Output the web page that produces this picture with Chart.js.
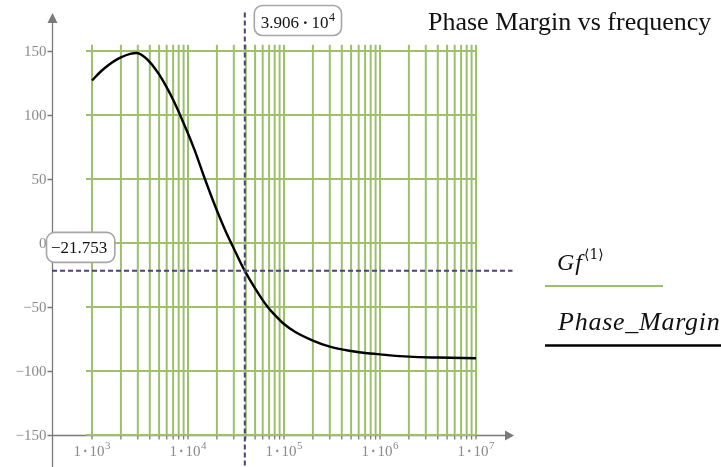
<!DOCTYPE html>
<html>
<head>
<meta charset="utf-8">
<script src="https://cdn.jsdelivr.net/npm/chart.js@4.4.1/dist/chart.umd.min.js"></script>
<style>
  html, body { margin: 0; padding: 0; background: #fff; }
  #wrap { width: 721px; height: 467px; }
</style>
</head>
<body>
<div id="wrap"><canvas id="pmChart" width="721" height="467"></canvas></div>
<script>
// Phase margin (deg) vs frequency (Hz)
const freqHz = [1e3, 1.25e3, 1.5e3, 1.75e3, 2e3, 2.5e3, 2.93e3, 3.5e3, 4e3, 4.5e3, 5e3, 6e3,
    7e3, 8e3, 8.7e3, 1e4, 1.18e4, 1.5e4, 2e4, 2.5e4, 3e4, 3.5e4, 3.906e4, 5e4, 6e4, 7e4, 8e4,
    1e5, 1.3e5, 2e5, 3e5, 5e5, 7e5, 1e6, 2e6, 4e6, 1e7];
const phaseMargin = [127, 134.4, 139.3, 142.7, 145.1, 147.8, 148.45, 145.5, 141.3, 136.6, 131.7, 121.6,
    112, 102.5, 96.1, 85.6, 72, 50, 25.4, 8.2, -4.3, -14.8, -21.753, -35.5, -44.6, -51.4, -56.1,
    -63.3, -69.3, -76.2, -81, -84.4, -85.9, -87, -88.8, -89.5, -90];

// green Gf<1> trace: vertical strokes at these frequencies, horizontal strokes at these levels
const gfFreqs = [1e3, 2e3, 3e3, 4e3, 5e3, 6e3, 7e3, 8e3, 9e3,
    1e4, 2e4, 3e4, 4e4, 5e4, 6e4, 7e4, 8e4, 9e4,
    1e5, 2e5, 3e5, 4e5, 5e5, 6e5, 7e5, 8e5, 9e5,
    1e6, 2e6, 3e6, 4e6, 5e6, 6e6, 7e6, 8e6, 9e6, 1e7];
const gfLevels = [150, 100, 50, 0, -50, -100, -150];
const gfTop = 155;
const gfStart = 866;
const gfEnd = 1e7;

// readout markers
const markerFreq = 3.906e4;
const markerPhase = -21.753;

// axis ticks
const yTicks = [150, 100, 50, 0, -50, -100, -150];
const xTickExps = [3, 4, 5, 6, 7];
const xBase = -150;

const SERIF = '"Liberation Serif", "DejaVu Serif", serif';
const GREEN = '#9cc06c';
const DASH = '#4e3f7e';
const AXIS = '#7a7a7a';

function gfPoints() {
    const pts = [];
    gfFreqs.forEach(f => {
        pts.push({ x: f, y: xBase }, { x: f, y: gfTop }, { x: f, y: null });
    });
    gfLevels.forEach(v => {
        pts.push({ x: gfStart, y: v }, { x: gfEnd, y: v }, { x: gfEnd, y: null });
    });
    return pts;
}

function roundBox(ctx, x, y, w, h, r) {
    ctx.beginPath();
    ctx.moveTo(x + r, y);
    ctx.arcTo(x + w, y, x + w, y + h, r);
    ctx.arcTo(x + w, y + h, x, y + h, r);
    ctx.arcTo(x, y + h, x, y, r);
    ctx.arcTo(x, y, x + w, y, r);
    ctx.closePath();
}

// draws "m·10^e" starting at x (left) and returns its width
function sciText(ctx, mant, exp, x, y, size, color, gapRatio, measureOnly) {
    ctx.font = size + 'px ' + SERIF;
    const supSize = Math.round(size * 0.7);
    const gap = size * gapRatio;
    const wM = ctx.measureText(mant).width;
    const wD = ctx.measureText('\u00b7').width;
    const wT = ctx.measureText('10').width;
    ctx.font = supSize + 'px ' + SERIF;
    const wE = ctx.measureText(String(exp)).width;
    const total = wM + gap + wD + gap + wT + 0.5 + wE;
    if (measureOnly) return total;
    ctx.fillStyle = color;
    ctx.textAlign = 'left';
    ctx.textBaseline = 'alphabetic';
    ctx.font = size + 'px ' + SERIF;
    ctx.fillText(mant, x, y);
    ctx.font = 'bold ' + size + 'px ' + SERIF;
    ctx.fillText('\u00b7', x + wM + gap, y);
    ctx.font = size + 'px ' + SERIF;
    ctx.fillText('10', x + wM + gap + wD + gap, y);
    ctx.font = supSize + 'px ' + SERIF;
    ctx.fillText(String(exp), x + wM + gap + wD + gap + wT + 0.5, y - size * 0.42);
    return total;
}

const axesPlugin = {
    id: 'mathcadAxes',
    beforeDatasetsDraw(chart) {
        const { ctx, chartArea: a, scales: { x, y } } = chart;
        const x0 = a.left + 0.5;
        const yb = Math.round(y.getPixelForValue(xBase)) + 0.5;
        ctx.save();
        ctx.strokeStyle = AXIS;
        ctx.fillStyle = AXIS;
        ctx.lineWidth = 1.3;
        // vertical axis + arrow
        ctx.beginPath();
        ctx.moveTo(x0, a.bottom);
        ctx.lineTo(x0, a.top + 10);
        ctx.stroke();
        ctx.beginPath();
        ctx.moveTo(x0, a.top + 1);
        ctx.lineTo(x0 - 5, a.top + 11);
        ctx.lineTo(x0 + 5, a.top + 11);
        ctx.closePath();
        ctx.fill();
        // horizontal axis + arrow
        ctx.beginPath();
        ctx.moveTo(x0, yb);
        ctx.lineTo(a.right - 9, yb);
        ctx.stroke();
        ctx.beginPath();
        ctx.moveTo(a.right - 1, yb);
        ctx.lineTo(a.right - 10, yb - 5);
        ctx.lineTo(a.right - 10, yb + 5);
        ctx.closePath();
        ctx.fill();
        // tick marks
        ctx.beginPath();
        yTicks.forEach(v => {
            const py = Math.round(y.getPixelForValue(v)) + 0.5;
            ctx.moveTo(x0 - 5, py);
            ctx.lineTo(x0, py);
        });
        gfFreqs.forEach(f => {
            const px = x.getPixelForValue(f);
            ctx.moveTo(px, yb);
            ctx.lineTo(px, yb + 4);
        });
        ctx.stroke();
        // tick labels
        ctx.fillStyle = '#8a8a8a';
        ctx.font = '15px ' + SERIF;
        ctx.textAlign = 'right';
        ctx.textBaseline = 'middle';
        yTicks.forEach(v => {
            const txt = v < 0 ? '\u2212' + Math.abs(v) : String(v);
            ctx.fillText(txt, x0 - 6, y.getPixelForValue(v) + 1);
        });
        xTickExps.forEach(e => {
            const px = x.getPixelForValue(Math.pow(10, e));
            const w = sciText(ctx, '1', e, 0, 0, 15, '#8a8a8a', 0.12, true);
            sciText(ctx, '1', e, px - w / 2, yb + 20, 15, '#8a8a8a', 0.12);
        });
        ctx.restore();
    },
    afterDatasetsDraw(chart) {
        const { ctx, chartArea: a, scales: { x, y } } = chart;
        const mx = x.getPixelForValue(markerFreq);
        const my = y.getPixelForValue(markerPhase);
        ctx.save();
        // x readout
        const wx = sciText(ctx, '3.906', 4, 0, 0, 17, '#000', 0.2, true);
        roundBox(ctx, mx + 9.5, 5.5, wx + 13, 30, 8);
        ctx.fillStyle = '#fff';
        ctx.fill();
        ctx.strokeStyle = '#a6a6a6';
        ctx.lineWidth = 1.6;
        ctx.stroke();
        sciText(ctx, '3.906', 4, mx + 16, 28, 17, '#111', 0.2);
        // y readout
        ctx.font = '17px ' + SERIF;
        const ytxt = '\u2212' + Math.abs(markerPhase).toFixed(3);
        const wy = ctx.measureText(ytxt).width;
        roundBox(ctx, a.left - 5.5, my - 38.5, wy + 12, 30, 8);
        ctx.fillStyle = '#fff';
        ctx.fill();
        ctx.stroke();
        ctx.fillStyle = '#111';
        ctx.textAlign = 'left';
        ctx.textBaseline = 'alphabetic';
        ctx.fillText(ytxt, a.left - 1, my - 18);
        // title
        ctx.font = '26px ' + SERIF;
        ctx.fillStyle = '#111';
        ctx.fillText('Phase Margin vs frequency', 428, 30);
        // legend
        ctx.letterSpacing = '1px';
        ctx.font = 'italic 24px ' + SERIF;
        ctx.fillText('Gf', 557, 270);
        const wg = ctx.measureText('Gf').width;
        ctx.letterSpacing = '0px';
        ctx.font = '14px "DejaVu Serif", serif';
        ctx.fillText('\u27e81\u27e9', 557 + wg + 1, 259);
        ctx.strokeStyle = GREEN;
        ctx.lineWidth = 2;
        ctx.beginPath();
        ctx.moveTo(545, 286);
        ctx.lineTo(663, 286);
        ctx.stroke();
        ctx.letterSpacing = '0.75px';
        ctx.font = 'italic 26px ' + SERIF;
        ctx.fillText('Phase_Margin', 558, 330);
        ctx.letterSpacing = '0px';
        ctx.strokeStyle = '#000';
        ctx.lineWidth = 2.5;
        ctx.beginPath();
        ctx.moveTo(545, 345.5);
        ctx.lineTo(721, 345.5);
        ctx.stroke();
        ctx.restore();
    }
};

new Chart(document.getElementById('pmChart'), {
    type: 'line',
    data: {
        datasets: [
            {
                label: 'marker x',
                data: [{ x: markerFreq, y: -180 }, { x: markerFreq, y: 181 }],
                borderColor: DASH,
                borderWidth: 2,
                borderDash: [5, 3],
                pointRadius: 0,
                order: 0
            },
            {
                label: 'marker y',
                data: [{ x: 383, y: markerPhase }, { x: 2.4e7, y: markerPhase }],
                borderColor: DASH,
                borderWidth: 2,
                borderDash: [5, 3],
                pointRadius: 0,
                order: 0
            },
            {
                label: 'Phase_Margin',
                data: freqHz.map((f, i) => ({ x: f, y: phaseMargin[i] })),
                borderColor: '#000',
                borderWidth: 2.4,
                pointRadius: 0,
                cubicInterpolationMode: 'monotone',
                order: 1
            },
            {
                label: 'Gf<1>',
                data: gfPoints(),
                borderColor: GREEN,
                borderWidth: 2,
                pointRadius: 0,
                spanGaps: false,
                tension: 0,
                order: 2
            }
        ]
    },
    options: {
        responsive: false,
        animation: false,
        devicePixelRatio: 1,
        layout: { padding: { left: 52, right: 206, top: 12, bottom: 0 } },
        plugins: { legend: { display: false }, tooltip: { enabled: false }, title: { display: false } },
        scales: {
            x: { type: 'logarithmic', min: 383, max: 2.55e7, display: false },
            y: { type: 'linear', min: -175, max: 180.5, display: false }
        }
    },
    plugins: [axesPlugin]
});
</script>
</body>
</html>
